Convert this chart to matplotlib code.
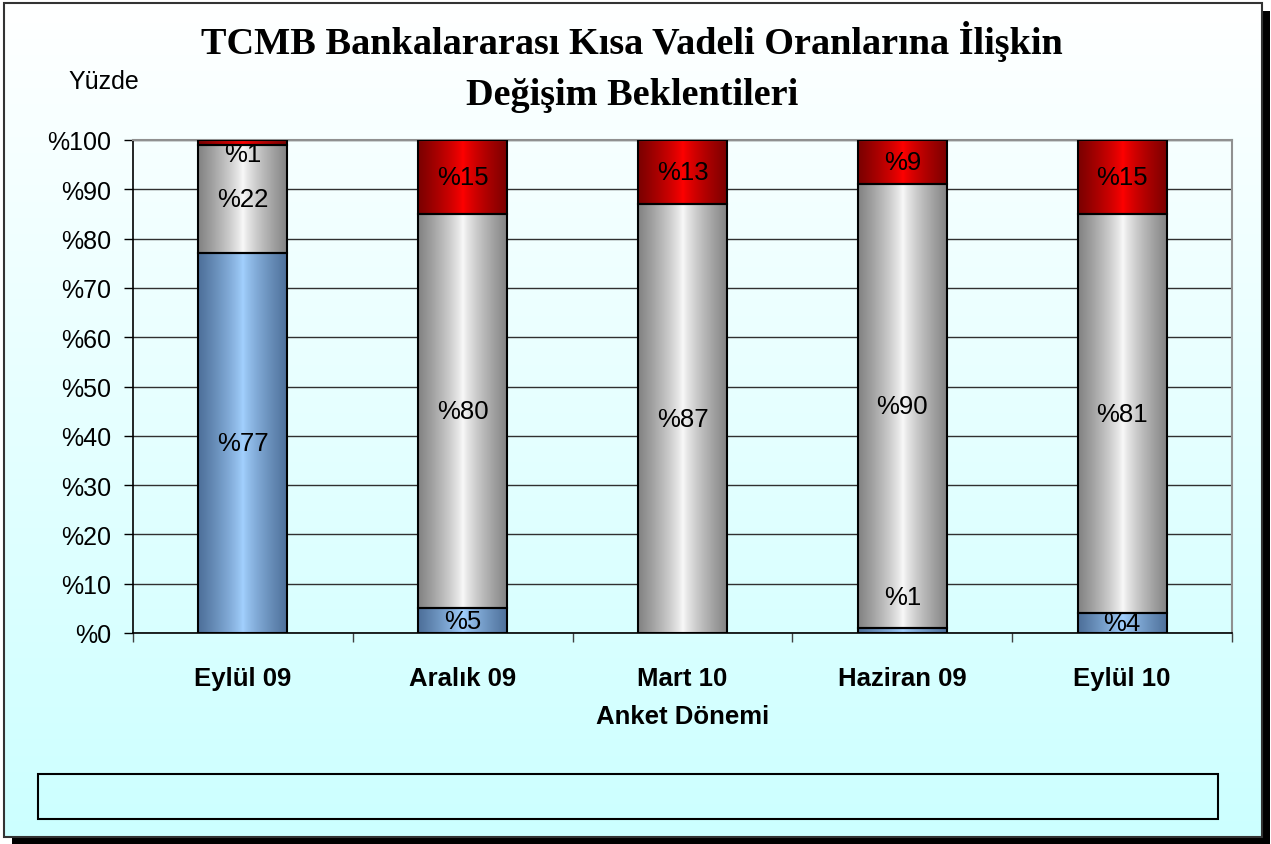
import numpy as np
import matplotlib
matplotlib.use("Agg")
import matplotlib.pyplot as plt
from matplotlib.patches import Rectangle
from matplotlib.colors import LinearSegmentedColormap

# ---------------------------------------------------------------- data
categories = ["Eylül 09", "Aralık 09", "Mart 10", "Haziran 09", "Eylül 10"]
azalis = [77, 5, 0, 1, 4]        # blue
degismez = [22, 80, 87, 90, 81]  # gray
artis = [1, 15, 13, 9, 15]       # red
yticks = list(range(0, 101, 10))

title_lines = ["TCMB Bankalararası Kısa Vadeli Oranlarına İlişkin",
               "Değişim Beklentileri"]

# ---------------------------------------------------------------- figure
W, H = 1271, 845
fig = plt.figure(figsize=(W / 100, H / 100), dpi=100)

def px(x0, y0, x1, y1):
    return (x0 / W, 1 - y1 / H, (x1 - x0) / W, (y1 - y0) / H)

g = np.linspace(0, 1, 256).reshape(-1, 1)
bg_cmap = LinearSegmentedColormap.from_list("bg", ["#ffffff", "#ccffff"])

# shadow + border + gradient fill
sx, sy, sw, sh = px(12, 12, 1270, 845)
fig.add_artist(Rectangle((sx, sy), sw, sh, transform=fig.transFigure,
                         facecolor="black", edgecolor="none", zorder=-9))
bx, by, bw, bh = px(4, 4, 1262, 838)
inner = fig.add_axes([bx, by, bw, bh], zorder=-8)
inner.imshow(g, aspect="auto", cmap=bg_cmap, extent=[0, 1, 0, 1], origin="upper")
inner.axis("off")
fig.add_artist(Rectangle((bx, by), bw, bh, transform=fig.transFigure,
                         facecolor="none", edgecolor="#333333", lw=1.5, zorder=5))

# empty legend box
lx, ly, lw_, lh = px(38, 775, 1218, 820)
fig.add_artist(Rectangle((lx, ly), lw_, lh, transform=fig.transFigure,
                         facecolor="none", edgecolor="black", lw=1.5))

# ---------------------------------------------------------------- axes
ax = fig.add_axes(px(133, 141, 1232, 634))
ax.patch.set_alpha(0)
x = np.arange(len(categories))
width = 0.405

def cyl_cmap(edge, mid, name):
    return LinearSegmentedColormap.from_list(
        name, [(0, edge), (0.5, mid), (1, edge)])

series = [
    (azalis, np.zeros(len(x)), cyl_cmap("#4d6f99", "#a3d1ff", "b")),
    (degismez, np.array(azalis, float), cyl_cmap("#828282", "#fafafa", "g")),
    (artis, np.array(azalis, float) + np.array(degismez, float),
     cyl_cmap("#7a0000", "#ff0000", "r")),
]
prof = np.linspace(0, 1, 200).reshape(1, -1)
prof = 0.5 + 0.5 * np.sign(prof - 0.5) * np.abs(2 * prof - 1) ** 0.8

# manual label nudges (series index, category index) -> offset in % units
nudge = {(2, 0): -2.3, (0, 3): 6.8}

for si, (vals, bottoms, cmap) in enumerate(series):
    bars = ax.bar(x, vals, width, bottom=bottoms, facecolor="none",
                  edgecolor="black", lw=1.5, zorder=3)
    for i, b in enumerate(bars):
        if vals[i] <= 0:
            b.set_visible(False)
            continue
        bx0, by0 = b.get_x(), b.get_y()
        im = ax.imshow(prof, cmap=cmap, vmin=0, vmax=1, aspect="auto",
                       extent=[bx0, bx0 + b.get_width(), by0, by0 + b.get_height()],
                       zorder=2, interpolation="bilinear")
        im.set_clip_path(b)
        yc = by0 + vals[i] / 2 + nudge.get((si, i), 0)
        ax.text(x[i], yc, f"%{vals[i]}", ha="center", va="center",
                fontsize=18.5, family="Liberation Sans", zorder=4)

ax.set_xlim(-0.5, len(x) - 0.5)
ax.set_ylim(0, 100)
ax.set_yticks(yticks)
ax.set_yticklabels([f"%{v}" for v in yticks], fontsize=18, family="Liberation Sans")
ax.set_xticks(x)
ax.set_xticklabels(categories, fontsize=18.5, fontweight="bold", family="Liberation Sans")
ax.set_xticks(np.arange(-0.5, len(x)), minor=True)
ax.tick_params(axis="x", which="major", length=0, pad=24)
ax.tick_params(axis="x", which="minor", length=6.5, width=1, color="#404040")
ax.tick_params(axis="y", length=6.5, width=1, pad=9)
ax.yaxis.grid(True, color="#303030", lw=1)
ax.set_axisbelow(True)
for s in ("top", "right"):
    ax.spines[s].set_color("#909090"); ax.spines[s].set_lw(1.5)
for s in ("left", "bottom"):
    ax.spines[s].set_color("black"); ax.spines[s].set_lw(1.2)

ax.set_xlabel("Anket Dönemi", fontsize=18.5, fontweight="bold",
              family="Liberation Sans", labelpad=10)

for line, base in zip(title_lines, (54, 105)):
    fig.text(632 / W, 1 - base / H, line, ha="center", va="baseline",
             fontsize=27.5, fontweight="bold", family="Liberation Serif")
fig.text(68 / W, 1 - 82 / H, "Yüzde", ha="left", va="center",
         fontsize=18, family="Liberation Sans")

fig.savefig("out.png", dpi=100)
